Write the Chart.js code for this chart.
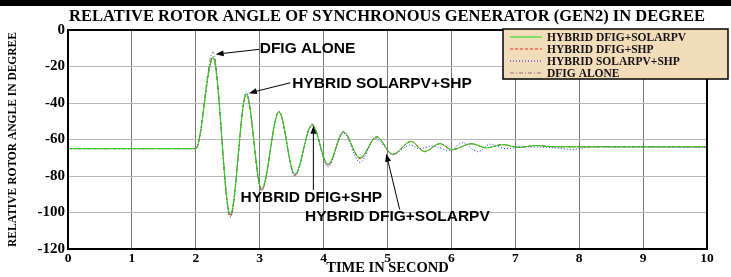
<!DOCTYPE html>
<html>
<head>
<meta charset="utf-8">
<script src="https://cdn.jsdelivr.net/npm/chart.js@4/dist/chart.umd.min.js"></script>
<style>
  html, body { margin: 0; padding: 0; background: #fff; }
  #wrap { width: 731px; height: 277px; position: relative; }
</style>
</head>
<body>
<div id="wrap"><canvas id="rotorChart"></canvas></div>
<script>
const tiempo = [0, 2.0, 2.27, 2.54, 2.79, 3.03, 3.30, 3.55, 3.82, 4.07, 4.31, 4.57, 4.83, 5.08, 5.37, 5.58, 5.82, 6.01, 6.31, 6.55, 6.80, 7.06, 7.32, 7.60, 10];
const dfigSolarpv = [-65, -65, -15, -101, -35, -87, -45, -79, -52, -73.5, -56, -70, -58.6, -68, -61, -66.5, -62.3, -65.6, -62.3, -64.6, -62.8, -64.3, -63.3, -64, -64];
const dfigShp = [-65, -65, -15.5, -102, -35.5, -87.5, -45, -79.5, -52, -74, -56, -70.5, -58.6, -68.3, -61, -66.7, -62.3, -65.6, -62.4, -64.6, -62.8, -64.3, -63.3, -64, -64];
const dfigAlone = [-65, -65, -12, -102.5, -35, -88, -44.5, -79.5, -51.5, -74, -55.5, -70.5, -58.3, -68.3, -61.2, -66.5, -62.3, -65.5, -62.3, -64.5, -62.8, -64.3, -63.3, -64, -64];

const tiempoPvShp = [0, 2.0, 2.27, 2.54, 2.79, 3.03, 3.30, 3.55, 3.82, 4.07, 4.31, 4.57, 4.81, 5.09, 5.36, 5.50, 5.70, 5.97, 6.18, 6.41, 6.61, 6.85, 7.10, 7.50, 7.90, 8.20, 10];
const solarpvShp = [-65, -65, -14.5, -102.5, -34, -88, -44.5, -80, -52, -75, -56.5, -72.5, -59.5, -68, -63, -65, -63.6, -66, -61.7, -66.7, -62.6, -65, -64, -64.3, -65.4, -64, -64.3];

const etiquetas = ['HYBRID DFIG+SOLARPV', 'HYBRID DFIG+SHP', 'HYBRID SOLARPV+SHP', 'DFIG ALONE'];

// text + arrow annotations, in data units: [label, textX, textY, fromX, fromY, toX, toY]
const notas = [
  ['DFIG ALONE', 3.0, -10.4, 2.99, -10.6, 2.31, -13.3],
  ['HYBRID SOLARPV+SHP', 3.51, -29.4, 3.48, -28.9, 2.83, -34.6],
  ['HYBRID DFIG+SHP', 2.70, -91.9, 3.84, -87.7, 3.84, -52.5],
  ['HYBRID DFIG+SOLARPV', 3.71, -102.5, 5.19, -98.3, 4.98, -67.8]
];

const pts = (xs, ys) => xs.map((x, i) => ({ x: x, y: ys[i] }));

const marco = {
  id: 'marco',
  afterDraw(chart) {
    const c = chart.ctx;
    const a = chart.chartArea;
    const sx = chart.scales.x, sy = chart.scales.y;
    c.save();
    // black strip on top
    c.fillStyle = '#000';
    c.fillRect(0, 0, chart.width, 6);
    // title
    c.font = "bold 16.5px 'Liberation Serif'";
    c.textAlign = 'center';
    c.textBaseline = 'middle';
    c.fillText('RELATIVE ROTOR ANGLE OF SYNCHRONOUS GENERATOR (GEN2) IN DEGREE', 387, 17);
    // axes box
    c.strokeStyle = '#000';
    c.lineWidth = 2;
    c.strokeRect(a.left, a.top, a.right - a.left, a.bottom - a.top);

    // annotations
    c.font = "bold 15.5px 'Liberation Sans'";
    c.textAlign = 'left';
    c.lineWidth = 1;
    notas.forEach(n => {
      c.fillStyle = '#000';
      c.fillText(n[0], sx.getPixelForValue(n[1]), sy.getPixelForValue(n[2]));
      const x1 = sx.getPixelForValue(n[3]), y1 = sy.getPixelForValue(n[4]);
      const x2 = sx.getPixelForValue(n[5]), y2 = sy.getPixelForValue(n[6]);
      const ang = Math.atan2(y2 - y1, x2 - x1);
      c.beginPath();
      c.moveTo(x1, y1);
      c.lineTo(x2 - 5 * Math.cos(ang), y2 - 5 * Math.sin(ang));
      c.stroke();
      c.beginPath();
      c.moveTo(x2, y2);
      c.lineTo(x2 - 8 * Math.cos(ang) + 3 * Math.sin(ang), y2 - 8 * Math.sin(ang) - 3 * Math.cos(ang));
      c.lineTo(x2 - 8 * Math.cos(ang) - 3 * Math.sin(ang), y2 - 8 * Math.sin(ang) + 3 * Math.cos(ang));
      c.closePath();
      c.fill();
    });

    // legend box
    const lx = 503, ly = 29, lw = 225, lh = 50;
    c.fillStyle = '#f2dcb9';
    c.fillRect(lx, ly, lw, lh);
    c.strokeStyle = '#000';
    c.lineWidth = 1.5;
    c.strokeRect(lx, ly, lw, lh);
    c.font = "bold 11.5px 'Liberation Serif'";
    c.textBaseline = 'middle';
    chart.data.datasets.forEach((ds, i) => {
      const yy = ly + 8 + i * 12;
      c.strokeStyle = ds.borderColor;
      c.lineWidth = 1;
      c.setLineDash(ds.borderDash || []);
      c.beginPath();
      c.moveTo(lx + 7, yy);
      c.lineTo(lx + 39, yy);
      c.stroke();
      c.setLineDash([]);
      c.fillStyle = '#111';
      c.fillText(ds.label, lx + 44, yy + 1);
    });
    c.restore();
  }
};

document.addEventListener('DOMContentLoaded', () => {
  const ctx = document.getElementById('rotorChart');
  const serie = { fill: false, pointRadius: 0, borderWidth: 1, cubicInterpolationMode: 'monotone' };

  new Chart(ctx, {
    type: 'line',
    data: {
      datasets: [
        Object.assign({ label: etiquetas[0], data: pts(tiempo, dfigSolarpv), borderColor: '#10e010' }, serie),
        Object.assign({ label: etiquetas[1], data: pts(tiempo, dfigShp), borderColor: '#ff2020', borderDash: [3, 2] }, serie),
        Object.assign({ label: etiquetas[2], data: pts(tiempoPvShp, solarpvShp), borderColor: '#2020ff', borderDash: [1, 2] }, serie),
        Object.assign({ label: etiquetas[3], data: pts(tiempo, dfigAlone), borderColor: '#a0688e', borderDash: [4, 2, 1, 2] }, serie)
      ]
    },
    options: {
      responsive: true,
      maintainAspectRatio: false,
      animation: false,
      layout: { padding: { top: 30, right: 24, left: 0, bottom: 0 } },
      plugins: { legend: { display: false }, tooltip: { enabled: false } },
      scales: {
        x: {
          type: 'linear',
          min: 0,
          max: 10,
          afterFit: s => { s.height = 28; },
          ticks: {
            stepSize: 1,
            padding: 1,
            color: '#000',
            font: { family: "'Liberation Serif'", size: 13.5, weight: 'bold' }
          },
          grid: { color: '#7a7a7a', drawTicks: false, tickLength: 0 },
          border: { display: false },
          title: {
            display: true,
            text: 'TIME IN SECOND',
            color: '#000',
            padding: 0,
            font: { family: "'Liberation Serif'", size: 14.5, weight: 'bold' }
          }
        },
        y: {
          min: -120,
          max: 0,
          afterFit: s => { s.width = 68; },
          ticks: {
            stepSize: 20,
            padding: 3,
            color: '#000',
            font: { family: "'Liberation Serif'", size: 15, weight: 'bold' }
          },
          grid: { color: '#b8b8b8', drawTicks: false, tickLength: 0 },
          border: { display: false },
          title: {
            display: true,
            text: 'RELATIVE ROTOR ANGLE IN DEGREE',
            color: '#000',
            padding: { top: 6, bottom: 0 },
            font: { family: "'Liberation Serif'", size: 11.5, weight: 'bold' }
          }
        }
      }
    },
    plugins: [marco]
  });
});
</script>
</body>
</html>
